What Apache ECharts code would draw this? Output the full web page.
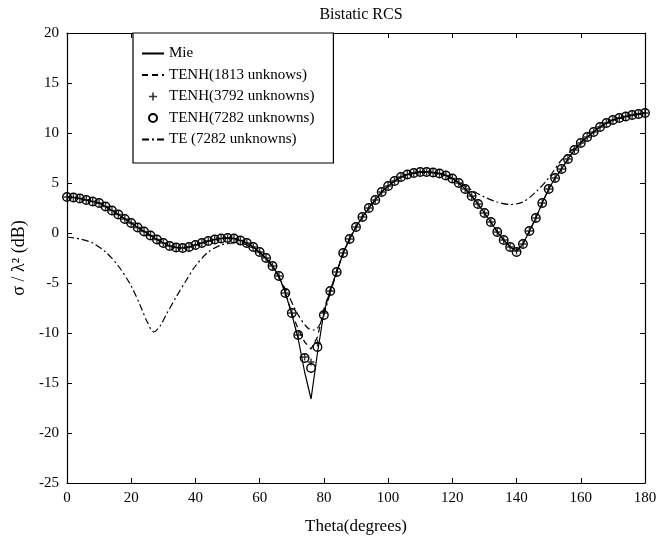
<!DOCTYPE html>
<html>
<head>
<meta charset="utf-8">
<script src="https://cdn.jsdelivr.net/npm/echarts@6/dist/echarts.min.js"></script>
<style>
  html, body { margin: 0; padding: 0; background: #fff; }
  #chart { width: 668px; height: 538px; }
</style>
</head>
<body>
<div id="chart"></div>
<script>
// scattering angle, degrees (sample points of the marker series)
var theta = [0,2,4,6,8,10,12,14,16,18,20,22,24,26,28,30,32,34,36,38,40,42,44,46,48,50,52,54,56,58,60,62,64,66,68,70,72,74,76,78,80,82,84,86,88,90,92,94,96,98,100,102,104,106,108,110,112,114,116,118,120,122,124,126,128,130,132,134,136,138,140,142,144,146,148,150,152,154,156,158,160,162,164,166,168,170,172,174,176,178,180];

var mie = [3.6,3.55,3.45,3.3,3.15,3.0,2.65,2.25,1.85,1.4,1.0,0.55,0.15,-0.25,-0.65,-1.0,-1.3,-1.45,-1.5,-1.4,-1.2,-1.0,-0.8,-0.65,-0.55,-0.5,-0.55,-0.75,-1.0,-1.4,-1.9,-2.5,-3.3,-4.3,-6.0,-8.1,-10.6,-13.9,-16.6,-12.0,-7.9,-5.7,-3.9,-2.0,-0.6,0.6,1.6,2.5,3.3,4.1,4.7,5.2,5.6,5.85,6.0,6.1,6.1,6.05,5.95,5.75,5.45,5.0,4.4,3.7,2.9,2.0,1.1,0.1,-0.7,-1.4,-1.8,-1.1,0.2,1.5,3.0,4.4,5.5,6.4,7.4,8.3,9.0,9.6,10.1,10.6,11.0,11.3,11.5,11.65,11.8,11.9,12.0];

var tenh1813 = [3.6,3.55,3.45,3.3,3.15,3.0,2.65,2.25,1.85,1.4,1.0,0.55,0.15,-0.25,-0.65,-1.0,-1.3,-1.45,-1.5,-1.4,-1.2,-1.0,-0.8,-0.65,-0.55,-0.5,-0.55,-0.75,-1.0,-1.4,-1.9,-2.5,-3.3,-4.3,-6.0,-8.0,-9.6,-10.9,-11.6,-10.4,-7.6,-5.7,-3.9,-2.0,-0.6,0.6,1.6,2.5,3.3,4.1,4.7,5.2,5.6,5.85,6.0,6.1,6.1,6.05,5.95,5.75,5.45,5.0,4.4,3.7,2.9,2.0,1.1,0.1,-0.7,-1.4,-1.8,-1.1,0.2,1.5,3.0,4.4,5.5,6.4,7.4,8.3,9.0,9.6,10.1,10.6,11.0,11.3,11.5,11.65,11.8,11.9,12.0];

var tenh3792 = [3.6,3.55,3.45,3.3,3.15,3.0,2.65,2.25,1.85,1.4,1.0,0.55,0.15,-0.25,-0.65,-1.0,-1.3,-1.45,-1.5,-1.4,-1.2,-1.0,-0.8,-0.65,-0.55,-0.5,-0.55,-0.75,-1.0,-1.4,-1.9,-2.5,-3.3,-4.3,-6.0,-8.0,-10.2,-12.4,-12.9,-11.0,-8.0,-5.8,-3.9,-2.0,-0.6,0.6,1.6,2.5,3.3,4.1,4.7,5.2,5.6,5.85,6.0,6.1,6.1,6.05,5.95,5.75,5.45,5.0,4.4,3.7,2.9,2.0,1.1,0.1,-0.7,-1.4,-1.8,-1.1,0.2,1.5,3.0,4.4,5.5,6.4,7.4,8.3,9.0,9.6,10.1,10.6,11.0,11.3,11.5,11.65,11.8,11.9,12.0];

var tenh7282 = [3.6,3.55,3.45,3.3,3.15,3.0,2.65,2.25,1.85,1.4,1.0,0.55,0.15,-0.25,-0.65,-1.0,-1.3,-1.45,-1.5,-1.4,-1.2,-1.0,-0.8,-0.65,-0.55,-0.5,-0.55,-0.75,-1.0,-1.4,-1.9,-2.5,-3.3,-4.3,-6.0,-8.0,-10.2,-12.5,-13.5,-11.4,-8.2,-5.8,-3.9,-2.0,-0.6,0.6,1.6,2.5,3.3,4.1,4.7,5.2,5.6,5.85,6.0,6.1,6.1,6.05,5.95,5.75,5.45,5.0,4.4,3.7,2.9,2.0,1.1,0.1,-0.7,-1.4,-1.9,-1.1,0.2,1.5,3.0,4.4,5.5,6.4,7.4,8.3,9.0,9.6,10.1,10.6,11.0,11.3,11.5,11.65,11.8,11.9,12.0];

// TE formulation, read on its own angle grid
var teTheta = [0,4,8,12,16,20,23,25,27,29,31,34,37,40,44,48,52,56,60,64,68,72,75,77,79,82,86,90,94,98,102,106,110,114,118,122,126,130,134,138,142,146,150,154,158,162,166,170,175,180];
var teVal = [-0.4,-0.6,-1.0,-1.9,-3.3,-5.3,-7.4,-8.9,-9.9,-9.3,-8.1,-6.4,-4.8,-3.3,-1.9,-1.2,-1.0,-1.2,-2.0,-3.4,-5.6,-8.2,-9.5,-9.7,-9.0,-6.0,-2.0,0.6,2.5,4.1,5.2,5.85,6.1,6.05,5.75,5.1,4.3,3.6,3.1,2.85,3.1,4.1,5.5,7.3,8.5,9.6,10.6,11.3,11.7,12.0];

var seriesNames = ['Mie', 'TENH(1813 unknows)', 'TENH(3792 unknowns)', 'TENH(7282 unknowns)', 'TE (7282 unknowns)'];

var FONT = 'Liberation Serif';
var plus = 'path://M4,0H6V4H10V6H6V10H4V6H0V4H4Z';

function pairs(xs, ys) {
  return xs.map(function (x, i) { return [x, ys[i]]; });
}

var chart = echarts.init(document.getElementById('chart'), null, { renderer: 'canvas' });

var axisCommon = {
  axisLine: { show: true, onZero: false, lineStyle: { color: '#000', width: 1.2 } },
  axisTick: { show: true, inside: true, length: 5, lineStyle: { color: '#000' } },
  splitLine: { show: false },
  axisLabel: { color: '#000', fontFamily: FONT, fontSize: 15 }
};

// line entries: hide the symbol the legend puts on line icons
var hideDot = { opacity: 0 };

var option = {
  animation: false,
  backgroundColor: '#fff',
  title: {
    text: 'Bistatic RCS',
    left: 356,
    top: 2,
    textAlign: 'center',
    textStyle: { fontFamily: FONT, fontSize: 16, fontWeight: 'normal', color: '#000' }
  },
  grid: { left: 67, right: 23, top: 33, bottom: 55, outerBoundsMode: 'none' },
  legend: {
    orient: 'vertical',
    left: 133,
    top: 33,
    padding: [13, 19, 16, 8],
    itemGap: 6.5,
    itemWidth: 22,
    itemHeight: 8,
    borderColor: '#000',
    borderWidth: 1.2,
    backgroundColor: '#fff',
    textStyle: { fontFamily: FONT, fontSize: 15, color: '#000' },
    data: [
      { name: seriesNames[0], itemStyle: hideDot },
      { name: seriesNames[1], itemStyle: hideDot },
      { name: seriesNames[2] },
      { name: seriesNames[3] },
      { name: seriesNames[4], itemStyle: hideDot }
    ]
  },
  xAxis: [
    Object.assign({}, axisCommon, {
      type: 'value', min: 0, max: 180, interval: 20, position: 'bottom',
      name: 'Theta(degrees)', nameLocation: 'middle', nameGap: 35,
      nameTextStyle: { fontFamily: FONT, fontSize: 17, color: '#000' }
    }),
    Object.assign({}, axisCommon, {
      type: 'value', min: 0, max: 180, interval: 20, position: 'top',
      axisLabel: { show: false }
    })
  ],
  yAxis: [
    Object.assign({}, axisCommon, {
      type: 'value', min: -25, max: 20, interval: 5, position: 'left',
      name: 'σ / λ² (dB)', nameLocation: 'middle', nameGap: 30,
      nameTextStyle: { fontFamily: FONT, fontSize: 18, color: '#000' }
    }),
    Object.assign({}, axisCommon, {
      type: 'value', min: -25, max: 20, interval: 5, position: 'right',
      axisLabel: { show: false }
    })
  ],
  series: [
    {
      name: seriesNames[0], type: 'line', data: pairs(theta, mie),
      showSymbol: false, symbol: 'none', z: 3,
      lineStyle: { color: '#000', width: 1.2, type: 'solid' },
      itemStyle: { color: '#000' }
    },
    {
      name: seriesNames[1], type: 'line', data: pairs(theta, tenh1813),
      showSymbol: false, symbol: 'none', z: 3,
      lineStyle: { color: '#000', width: 1.2, type: [6, 4] },
      itemStyle: { color: '#000' }
    },
    {
      name: seriesNames[2], type: 'scatter', data: pairs(theta, tenh3792),
      symbol: plus, symbolSize: 7, z: 4,
      itemStyle: { color: '#000' }
    },
    {
      name: seriesNames[3], type: 'scatter', data: pairs(theta, tenh7282),
      symbol: 'circle', symbolSize: 8.5, z: 4,
      itemStyle: { color: 'rgba(255,255,255,0)', borderColor: '#000', borderWidth: 1.4, opacity: 1 }
    },
    {
      name: seriesNames[4], type: 'line', data: pairs(teTheta, teVal),
      showSymbol: false, symbol: 'none', smooth: 0.3, z: 3,
      lineStyle: { color: '#000', width: 1.2, type: [7, 3, 2, 3] },
      itemStyle: { color: '#000' }
    }
  ]
};

chart.setOption(option);
</script>
</body>
</html>
